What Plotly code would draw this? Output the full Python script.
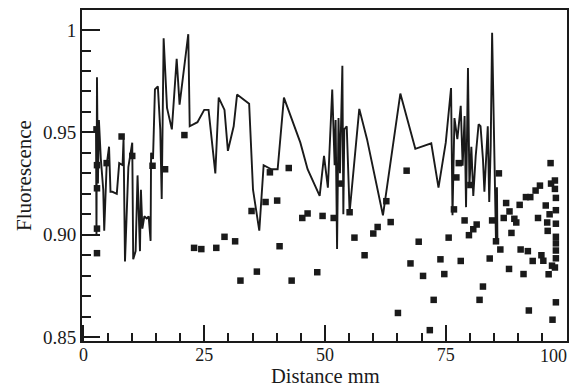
import plotly.graph_objects as go

# Line series (Distance mm, Fluorescence)
line_x = [2.6, 2.7, 2.8, 3.0, 3.2, 3.6, 4.1, 4.3, 4.8, 5.3, 5.6, 6.0, 6.9, 7.4, 8.1, 8.3, 8.6, 9.3,
          10.1, 10.3, 10.8, 11.2, 11.7, 11.9, 12.2, 12.6, 13.1, 13.5, 13.9, 14.0, 14.4, 14.8, 15.4,
          15.9, 16.2, 16.6, 17.3, 18.3, 19.3, 19.9, 21.7, 22.0, 23.6, 25.0, 25.9, 27.3, 28.0, 29.2,
          29.9, 31.1, 31.8, 34.3, 35.1, 36.4, 37.3, 38.9, 40.2, 41.5, 44.9, 46.4, 48.9, 49.8, 50.6,
          51.5, 52.0, 52.2, 52.5, 52.8, 53.1, 53.3, 53.6, 53.8, 54.0, 54.5, 55.1, 57.1, 58.7, 62.0,
          65.6, 68.7, 72.0, 73.5, 75.0, 76.1, 76.4, 76.8, 77.4, 78.1, 78.5, 78.9, 79.2, 79.6, 79.9,
          80.3, 80.7, 81.2, 81.8, 82.2, 82.7, 83.0, 83.4, 83.7, 84.0, 84.3, 84.6, 85.0, 85.4, 85.6,
          85.7]
line_y = [0.951, 0.900, 0.977, 0.925, 0.956, 0.937, 0.922, 0.902, 0.934, 0.943, 0.921, 0.921, 0.920,
          0.935, 0.934, 0.947, 0.887, 0.933, 0.945, 0.888, 0.892, 0.929, 0.892, 0.922, 0.903, 0.909,
          0.908, 0.909, 0.897, 0.940, 0.937, 0.971, 0.9725, 0.9515, 0.9175, 0.996, 0.962, 0.9515,
          0.986, 0.9636, 0.998, 0.953, 0.955, 0.961, 0.961, 0.930, 0.967, 0.961, 0.941, 0.953,
          0.9685, 0.964, 0.922, 0.902, 0.934, 0.932, 0.932, 0.967, 0.945, 0.932, 0.919, 0.9385,
          0.923, 0.971, 0.934, 0.956, 0.893, 0.957, 0.930, 0.956, 0.9825, 0.910, 0.9515, 0.953,
          0.911, 0.9615, 0.9467, 0.9095, 0.969, 0.942, 0.9447, 0.923, 0.945, 0.9717, 0.9095, 0.957,
          0.9467, 0.963, 0.9337, 0.958, 0.9135, 0.9814, 0.924, 0.943, 0.919, 0.9385, 0.954, 0.953,
          0.937, 0.921, 0.940, 0.953, 0.916, 0.943, 0.9987, 0.937, 0.8966, 0.9232, 0.897]

# Square-marker series
pts_x = [2.7, 2.8, 2.8, 2.8, 2.8, 4.8, 7.9, 10.1, 14.3, 16.9, 20.9, 22.9, 24.4, 27.5, 29.2, 31.4,
         32.5, 34.8, 35.9, 37.7, 38.6, 40.1, 40.6, 42.5, 43.1, 45.3, 46.4, 48.4, 49.5, 51.8, 53.3,
         55.1, 56.1, 58.2, 60.0, 60.9, 62.7, 63.6, 65.1, 66.9, 67.7, 69.4, 70.3, 71.7, 72.5, 73.9,
         74.7, 75.6, 76.7, 77.2, 77.7, 78.1, 78.9, 79.8, 80.1, 80.7, 81.4, 82.0, 82.7, 84.1, 84.6,
         85.4, 86.0, 86.3, 87.0, 87.5, 88.1, 88.2, 88.6, 89.2, 89.6, 90.3, 90.5, 91.1, 91.6, 92.0,
         92.2, 92.5, 93.0, 93.6, 94.1, 94.5, 94.8, 95.2, 95.7, 96.0, 96.1, 96.3, 96.5, 96.7, 96.8,
         97.0, 97.1, 97.6, 97.6, 97.8, 97.8, 97.8, 97.8, 97.8, 97.8, 97.8, 97.6, 97.8]
pts_y = [0.9515, 0.934, 0.9227, 0.903, 0.891, 0.935, 0.948, 0.9385, 0.9337, 0.932, 0.9487, 0.8936,
         0.893, 0.8936, 0.899, 0.8968, 0.8776, 0.9116, 0.882, 0.916, 0.9305, 0.9167, 0.8944,
         0.9326, 0.8776, 0.9082, 0.9104, 0.8817, 0.9092, 0.9082, 0.925, 0.911, 0.8986, 0.890,
         0.9006, 0.9038, 0.9164, 0.9062, 0.8618, 0.9313, 0.886, 0.8966, 0.8799, 0.8534, 0.8682,
         0.888, 0.8808, 0.8986, 0.9124, 0.928, 0.935, 0.8872, 0.907, 0.8998, 0.9243, 0.9027,
         0.905, 0.8682, 0.8747, 0.8884, 0.907, 0.8968, 0.930, 0.8928, 0.9082, 0.9155, 0.8833,
         0.9114, 0.9009, 0.9078, 0.906, 0.9146, 0.8928, 0.8808, 0.9184, 0.892, 0.863, 0.9184,
         0.8872, 0.9216, 0.9082, 0.924, 0.890, 0.8873, 0.9143, 0.906, 0.9019, 0.8807, 0.910,
         0.935, 0.925, 0.8849, 0.8585, 0.9265, 0.9224, 0.918, 0.912, 0.9054, 0.899, 0.8958,
         0.8923, 0.8885, 0.884, 0.867]

x_ticks = [0, 25, 50, 75, 100]
x_labels = ["0", "25", "50", "75", ""]
last_x_label = "100"
y_ticks = [0.85, 0.90, 0.95, 1.0]
y_labels = ["0.85", "0.90", "0.95", "1"]
x_minor = [5, 10, 15, 20, 30, 35, 40, 45, 55, 60, 65, 70, 80, 85, 90, 95]
y_minor = [0.86, 0.87, 0.88, 0.89, 0.91, 0.92, 0.93, 0.94, 0.96, 0.97, 0.98, 0.99]
x_title = "Distance mm"
y_title = "Fluorescence"

ink = "#1a1a1a"
font = "Times New Roman"

fig = go.Figure()
fig.add_trace(go.Scatter(x=line_x, y=line_y, mode="lines",
                         line=dict(color=ink, width=1.9), showlegend=False))
fig.add_trace(go.Scatter(x=pts_x, y=pts_y, mode="markers",
                         marker=dict(symbol="square", size=6.5, color=ink), showlegend=False))

fig.update_layout(
    width=574, height=387,
    margin=dict(l=82, r=7, t=10, b=46),
    paper_bgcolor="white", plot_bgcolor="white",
    font=dict(family=font, color=ink, size=18),
)
fig.update_xaxes(
    range=[-0.3, 100.1], tickmode="array", tickvals=x_ticks, ticktext=x_labels,
    ticks="inside", ticklen=16, tickwidth=1.5, tickcolor=ink,
    minor=dict(tickmode="array", tickvals=x_minor, ticks="inside", ticklen=8,
               tickwidth=1.5, tickcolor=ink),
    showline=True, linecolor=ink, linewidth=2, mirror=True,
    showgrid=False, zeroline=False, automargin=False,
    ticklabelstandoff=-4,
    tickfont=dict(size=18, family=font, color=ink),
)
fig.update_yaxes(
    range=[0.8481, 1.0098], tickmode="array", tickvals=y_ticks, ticktext=y_labels,
    ticks="inside", ticklen=18, tickwidth=1.5, tickcolor=ink,
    minor=dict(tickmode="array", tickvals=y_minor, ticks="inside", ticklen=9,
               tickwidth=1.5, tickcolor=ink),
    showline=True, linecolor=ink, linewidth=2, mirror=True,
    showgrid=False, zeroline=False, automargin=False,
    tickfont=dict(size=19, family=font, color=ink),
    title=dict(text=y_title, font=dict(size=21, family=font, color=ink), standoff=6),
)
fig.add_annotation(x=100, y=0, xref="x", yref="paper", text=last_x_label, showarrow=False,
                   xanchor="right", yanchor="top", xshift=2, yshift=-3,
                   font=dict(size=18, family=font, color=ink))
fig.add_annotation(x=0.503, y=-0.106, xref="paper", yref="paper", text=x_title, showarrow=False,
                   xanchor="center", yanchor="middle",
                   font=dict(size=20.5, family=font, color=ink))

fig.write_html("out.html", config={"displayModeBar": False},
               post_script="document.body.style.margin='0';")
